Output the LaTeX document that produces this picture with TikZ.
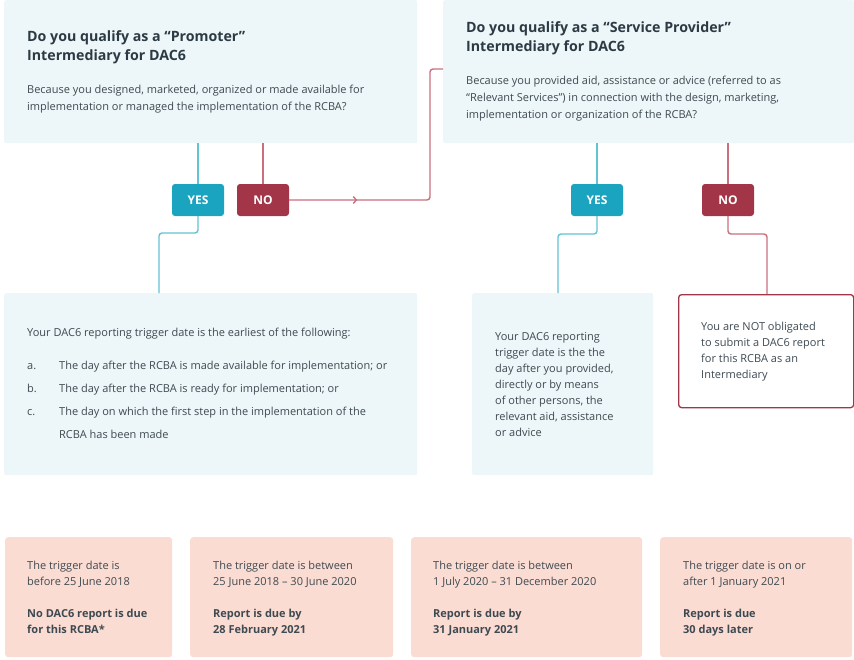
\documentclass[tikz,border=0pt]{standalone}
\usepackage{fontspec}
\setmainfont{Open Sans}
\usetikzlibrary{positioning,arrows.meta,decorations.markings}
\definecolor{qblue}{HTML}{EDF6F8}
\definecolor{datepink}{HTML}{FBDCD3}
\definecolor{yesteal}{HTML}{1BA4BF}
\definecolor{nored}{HTML}{A23547}
\definecolor{yesline}{HTML}{62C3D3}
\definecolor{noline}{HTML}{C96F7E}
\definecolor{titlegrey}{HTML}{2C3A44}
\definecolor{bodygrey}{HTML}{3E4A52}
\begin{document}
\begin{tikzpicture}[x=1pt,y=-1pt,
  qbox/.style={fill=qblue, rounded corners=2pt, inner sep=0pt, anchor=north west},
  datebox/.style={fill=datepink, rounded corners=3pt, inner sep=0pt, anchor=north west},
  notbox/.style={draw=nored, line width=1.3pt, fill=white, rounded corners=3pt, inner sep=0pt, anchor=north west},
  btn/.style={minimum width=52pt, minimum height=32pt, rounded corners=3pt, inner sep=0pt, text=white, font=\fontsize{12}{14}\selectfont\bfseries},
  yesbtn/.style={btn, fill=yesteal},
  nobtn/.style={btn, fill=nored},
  txt/.style={anchor=north west, inner sep=0pt, align=left, text=bodygrey, font=\fontsize{11}{17}\selectfont},
  ttl/.style={anchor=north west, inner sep=0pt, align=left, text=titlegrey, font=\fontsize{14.2}{19}\selectfont\bfseries},
  small/.style={txt, font=\fontsize{11}{16}\selectfont},
  yesconn/.style={draw=yesline, line width=1.4pt, rounded corners=3pt},
  noconn/.style={draw=noline, line width=1.4pt, rounded corners=3pt},
  midarrow/.style={postaction={decorate}, decoration={markings,
    mark=at position 68pt with {\arrow{Straight Barb[length=3pt,width=7pt]}}}}]
\useasboundingbox (0,0) rectangle (854,659);

% question boxes
\node[qbox, minimum width=413pt, minimum height=143pt] (promoter) at (4,0) {};
\node[qbox, minimum width=411pt, minimum height=143pt] (service) at (443,0) {};
\node[ttl] (promoterTitle) at (27,30) {Do you qualify as a “Promoter”\\Intermediary for DAC6};
\node[txt] (promoterText) at (27,85) {Because you designed, marketed, organized or made available for\\implementation or managed the implementation of the RCBA?};
\node[ttl] (serviceTitle) at (466,21) {Do you qualify as a “Service Provider”\\Intermediary for DAC6};
\node[txt] (serviceText) at (466,76) {Because you provided aid, assistance or advice (referred to as\\“Relevant Services”) in connection with the design, marketing,\\implementation or organization of the RCBA?};

% answers
\node[yesbtn] (yesP) at (198,200) {YES};
\node[nobtn] (noP) at (263,200) {NO};
\node[yesbtn] (yesS) at (597,200) {YES};
\node[nobtn] (noS) at (728,200) {NO};

% result boxes
\node[qbox, minimum width=413pt, minimum height=182pt] (listbox) at (4,293) {};
\node[qbox, minimum width=181pt, minimum height=182pt] (provbox) at (472,293) {};
\node[notbox, minimum width=175pt, minimum height=113pt] (notobl) at (678,294) {};
\node[txt] (listIntro) at (27,328) {Your DAC6 reporting trigger date is the earliest of the following:};
\node[txt, font=\fontsize{11}{23}\selectfont] (listItems) at (27,361) {%
  \makebox[32pt][l]{a.}The day after the RCBA is made available for implementation; or\\
  \makebox[32pt][l]{b.}The day after the RCBA is ready for implementation; or\\
  \makebox[32pt][l]{c.}The day on which the first step in the implementation of the\\
  \hspace*{32pt}RCBA has been made};
\node[txt, font=\fontsize{11}{16}\selectfont] (provText) at (495,332) {Your DAC6 reporting\\trigger date is the the\\day after you provided,\\directly or by means\\of other persons, the\\relevant aid, assistance\\or advice};
\node[txt, font=\fontsize{11}{16}\selectfont] (notText) at (701,322) {You are NOT obligated\\to submit a DAC6 report\\for this RCBA as an\\Intermediary};

% connectors
\coordinate (noturn) at (430,69);
\coordinate (yesPturn) at (159,233);
\coordinate (yesSturn) at (558,234);
\coordinate (noSturn) at (767,234);
\draw[yesconn] (yesP |- promoter.south) -- (yesP);
\draw[noconn] (noP |- promoter.south) -- (noP);
\draw[noconn, midarrow] (noP.east) -| (noturn) -- (noturn -| service.west);
\draw[yesconn] (yesP) |- (yesPturn) -- (yesPturn |- listbox.north);
\draw[yesconn] (yesS |- service.south) -- (yesS);
\draw[noconn] (noS |- service.south) -- (noS);
\draw[yesconn] (yesS) |- (yesSturn) -- (yesSturn |- provbox.north);
\draw[noconn] (noS) |- (noSturn) -- (noSturn |- notobl.north);

% trigger date boxes
\node[datebox, minimum width=167pt, minimum height=120pt] (before) at (5,537) {};
\node[datebox, minimum width=203pt, minimum height=120pt] (period1) at (190,537) {};
\node[datebox, minimum width=231pt, minimum height=120pt] (period2) at (411,537) {};
\node[datebox, minimum width=192pt, minimum height=120pt] (after) at (660,537) {};
\node[small] (beforeText) at (27,561) {The trigger date is\\before 25 June 2018\\[16pt]\textbf{No DAC6 report is due}\\\textbf{for this RCBA*}};
\node[small] (period1Text) at (213,561) {The trigger date is between\\25 June 2018 – 30 June 2020\\[16pt]\textbf{Report is due by}\\\textbf{28 February 2021}};
\node[small] (period2Text) at (433,561) {The trigger date is between\\1 July 2020 – 31 December 2020\\[16pt]\textbf{Report is due by}\\\textbf{31 January 2021}};
\node[small] (afterText) at (683,561) {The trigger date is on or\\after 1 January 2021\\[16pt]\textbf{Report is due}\\\textbf{30 days later}};
\end{tikzpicture}
\end{document}
